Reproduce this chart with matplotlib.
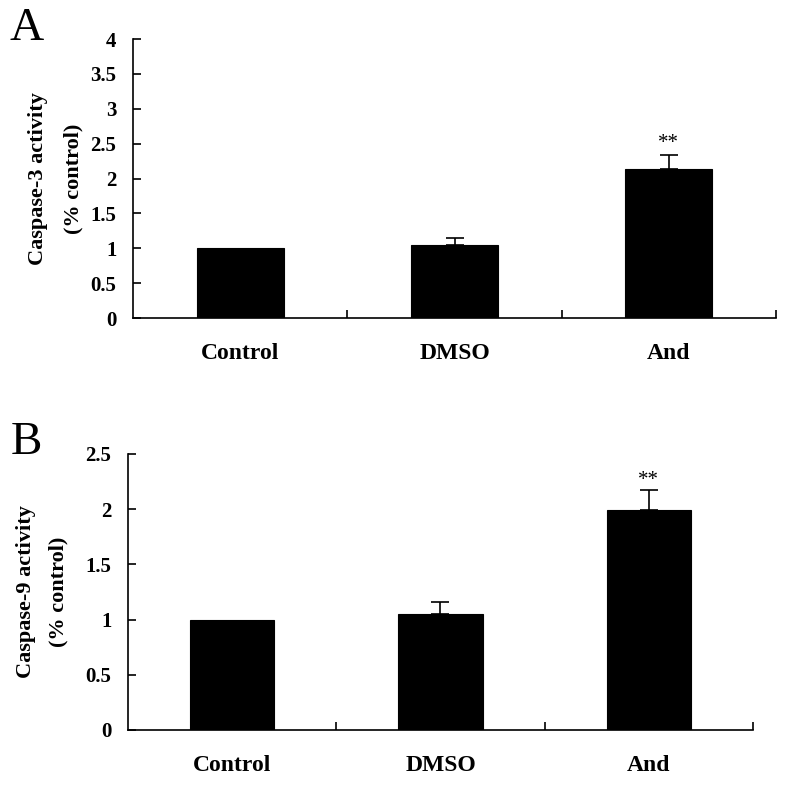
import matplotlib
matplotlib.use('Agg')
import matplotlib.pyplot as plt

plt.rcParams['font.family'] = ['Liberation Serif', 'DejaVu Serif']

groups = ['Control', 'DMSO', 'And']

casp3 = [1.0, 1.05, 2.14]
casp3_err = [0.0, 0.10, 0.19]
casp3_ticks = [0, 0.5, 1, 1.5, 2, 2.5, 3, 3.5, 4]

casp9 = [1.0, 1.05, 1.99]
casp9_err = [0.0, 0.11, 0.18]
casp9_ticks = [0, 0.5, 1, 1.5, 2, 2.5]

sig = ['', '', '**']


def panel(ax, vals, errs, yticks, ylabel, letter, star_off, lpos, lpad, lsp):
    x = list(range(len(groups)))
    ax.bar(x, vals, width=0.405, color='black', edgecolor='black', linewidth=0.8)
    ex = [i for i in x if errs[i] > 0]
    ax.errorbar(ex, [vals[i] for i in ex], yerr=[[0] * len(ex), [errs[i] for i in ex]],
                fmt='none', ecolor='black', elinewidth=1.2, capsize=6.5, capthick=1.2)
    for i, s in enumerate(sig):
        if s:
            ax.text(i, vals[i] + errs[i] + star_off, s, ha='center', va='bottom',
                    fontsize=15)
    ax.set_xlim(-0.5, 2.5)
    ax.set_ylim(0, yticks[-1])
    ax.set_yticks(yticks)
    ax.set_yticklabels([('%g' % t) for t in yticks], fontsize=15, fontweight='bold')
    ax.set_xticks([0.5, 1.5, 2.5])
    ax.set_xticklabels([])
    ax.set_xticks(x, minor=True)
    ax.set_xticklabels(groups, minor=True, fontsize=17, fontweight='bold')
    ax.tick_params(axis='x', which='minor', length=0, pad=18)
    ax.tick_params(axis='x', which='major', direction='in', length=6, width=1.2)
    ax.tick_params(axis='y', direction='in', length=6, width=1.2, pad=12)
    for sp in ['top', 'right']:
        ax.spines[sp].set_visible(False)
    for sp in ['left', 'bottom']:
        ax.spines[sp].set_linewidth(1.2)
    ax.set_ylabel(ylabel, fontsize=16, fontweight='bold', labelpad=lpad, linespacing=lsp)
    ax.text(lpos[0], lpos[1], letter, transform=ax.transAxes, fontsize=34,
            ha='center', va='center')


fig = plt.figure(figsize=(7.88, 7.85), dpi=100)
ax1 = fig.add_axes([0.1688, 0.5949, 0.816, 0.3554])
ax2 = fig.add_axes([0.1624, 0.0701, 0.7932, 0.3516])

panel(ax1, casp3, casp3_err, casp3_ticks, 'Caspase-3 activity\n(% control)', 'A',
      0.03, (-0.165, 1.035), 5, 2.0)
panel(ax2, casp9, casp9_err, casp9_ticks, 'Caspase-9 activity\n(% control)', 'B',
      0.0, (-0.163, 1.04), 12, 1.85)

fig.savefig('out.png', dpi=100)
